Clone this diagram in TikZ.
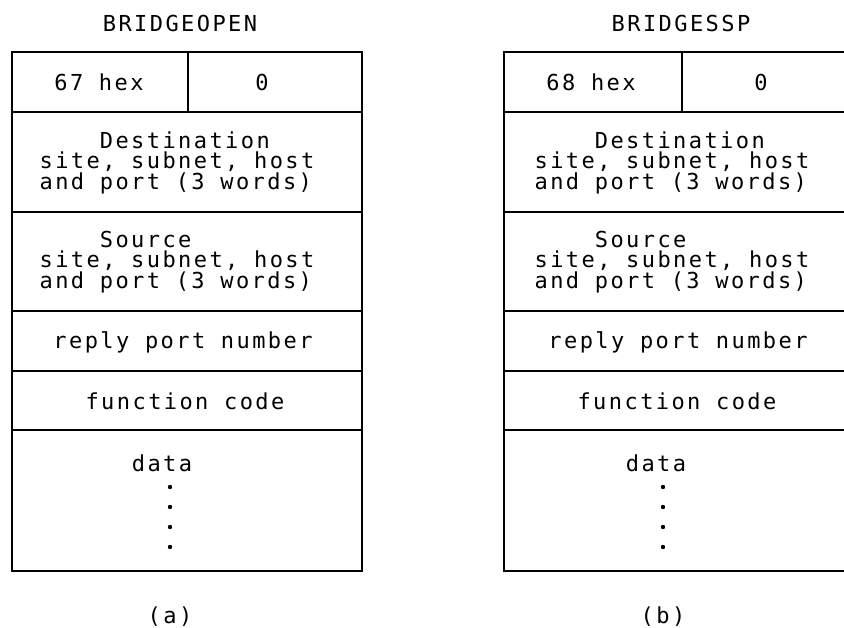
\documentclass[tikz,border=0pt]{standalone}
\usepackage{fontspec}
\newfontfamily\plotfont{DejaVu Sans Mono}[LetterSpace=11]
\tikzset{
  field/.style={font=\plotfont\fontsize{22}{19.5}\selectfont, inner sep=0pt, align=center},
  frame/.style={line width=1.4pt},
}
\begin{document}
\begin{tikzpicture}[x=1pt,y=-1pt]
  \useasboundingbox (0,0) rectangle (844,628);
  % packet (a)
  \draw[frame] (12,52) rectangle (362,571);
  \draw[frame] (188,52) -- (188,112);
  \foreach \y in {112,212,311,371,430}
    \draw[frame] (12,\y) -- (362,\y);
  \node[field] (titleA) at (180,23) {BRIDGEOPEN};
  \node[field] (typeA) at (99,82) {67 hex};
  \node[field] (zeroA) at (262,82) {0};
  \node[field, align=left] (destA) at (177,163)
    {\phantom{Dest}Destination\\site, subnet, host\\and port (3 words)};
  \node[field, align=left] (srcA) at (177,262)
    {\phantom{site}Source\\site, subnet, host\\and port (3 words)};
  \node[field] (replyA) at (183,342) {reply port number};
  \node[field] (funcA) at (185,401) {function code};
  \node[field] (dataA) at (162,463) {data};
  \foreach \y in {487,507,527,547}
    \fill (170,\y) circle (2.2pt);
  \node[field] (capA) at (170,617) {(a)};
  % packet (b), cut at the right edge
  \draw[frame] (844,52) -- (504,52) -- (504,571) -- (844,571);
  \draw[frame] (682,52) -- (682,112);
  \foreach \y in {112,212,311,371,430}
    \draw[frame] (504,\y) -- (844,\y);
  \node[field] (titleB) at (681,23) {BRIDGESSP};
  \node[field] (typeB) at (591,82) {68 hex};
  \node[field] (zeroB) at (761,82) {0};
  \node[field, align=left] (destB) at (672,163)
    {\phantom{Dest}Destination\\site, subnet, host\\and port (3 words)};
  \node[field, align=left] (srcB) at (672,262)
    {\phantom{site}Source\\site, subnet, host\\and port (3 words)};
  \node[field] (replyB) at (678,342) {reply port number};
  \node[field] (funcB) at (677,401) {function code};
  \node[field] (dataB) at (656,463) {data};
  \foreach \y in {487,507,527,547}
    \fill (663,\y) circle (2.2pt);
  \node[field] (capB) at (663,617) {(b)};
\end{tikzpicture}
\end{document}
